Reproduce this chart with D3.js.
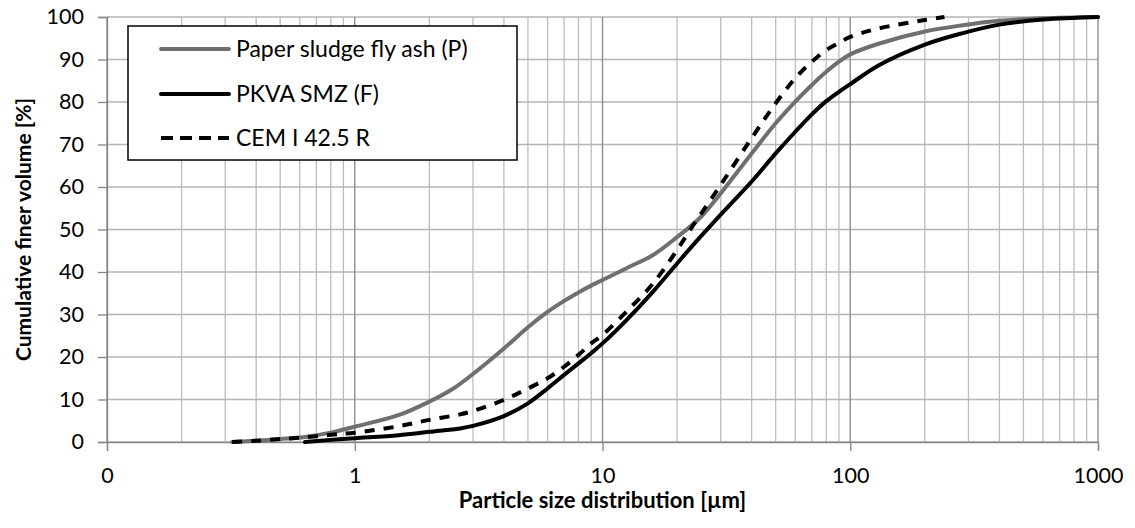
<!DOCTYPE html>
<html>
<head>
<meta charset="utf-8">
<script src="https://d3js.org/d3.v7.min.js"></script>
<style>
  html, body { margin: 0; padding: 0; background: #fff; }
  svg { display: block; font-family: Lato, "Open Sans", sans-serif; }
</style>
</head>
<body>
<svg id="chart" width="1135" height="528"></svg>
<script>
// ---- Data ----
const sizesP = [0.32, 0.4, 0.5, 0.63, 0.8, 1, 1.5, 2, 2.5, 3, 4, 5, 6, 7, 8, 9, 10, 12.5, 16, 20, 25, 30, 40, 50, 60, 70, 80, 90, 100, 130, 200, 280, 400, 600, 1000];
const valuesP = [0, 0.3, 0.7, 1.2, 2.2, 3.6, 6.3, 9.5, 12.6, 16, 22, 27, 30.6, 33.2, 35.2, 36.8, 38.1, 40.9, 44, 48.2, 53, 58.5, 67.9, 75, 80.1, 84, 87.1, 89.5, 91.2, 93.7, 96.6, 98.0, 99.1, 99.7, 100];

const sizesF = [0.63, 0.8, 1, 1.5, 2, 2.66, 3, 4, 5, 6, 7, 8, 9, 10, 12.5, 16, 20, 23, 30, 40, 50, 60, 70, 80, 90, 100, 130, 200, 280, 400, 600, 1000];
const valuesF = [0, 0.5, 0.9, 1.6, 2.4, 3.2, 3.8, 6.1, 9.1, 12.6, 15.8, 18.5, 20.9, 23.2, 28.7, 35.4, 42, 46.1, 53.5, 61.3, 67.9, 73, 77.1, 80.2, 82.4, 84.2, 88.6, 93.5, 96.1, 98.2, 99.4, 100];

const sizesC = [0.32, 0.4, 0.5, 0.63, 0.8, 1, 1.5, 2, 2.66, 3, 4, 5, 6, 7, 8, 9, 10, 12.5, 16, 20, 23, 30, 40, 50, 60, 70, 80, 90, 100, 130, 200, 240];
const valuesC = [0, 0.3, 0.7, 1.1, 1.7, 2.2, 3.7, 5.2, 6.5, 7.3, 9.9, 12.6, 15, 17.7, 20.5, 23.2, 25.2, 30.7, 37.3, 45.2, 50.6, 60.5, 71.5, 79.7, 85.6, 89.5, 92.2, 93.9, 95.3, 97.3, 99.3, 100];

const seriesNames = ["Paper sludge fly ash (P)", "PKVA SMZ (F)", "CEM I 42.5 R"];
const xTickValues = [0.1, 1, 10, 100, 1000];
const xTickLabels = ["0", "1", "10", "100", "1000"];
const yTickValues = [0, 10, 20, 30, 40, 50, 60, 70, 80, 90, 100];
const xTitle = "Particle size distribution [µm]";
const yTitle = "Cumulative finer volume [%]";

// ---- Layout ----
const svg = d3.select("#chart");
const L = 107, R = 1098, T = 17, B = 442;
const x = d3.scaleLog().domain([0.1, 1000]).range([L, R]);
const y = d3.scaleLinear().domain([0, 100]).range([B, T]);

const series = [
  { name: seriesNames[0], xs: sizesP, ys: valuesP, color: "#6f6f6f", dash: null },
  { name: seriesNames[1], xs: sizesF, ys: valuesF, color: "#000000", dash: null },
  { name: seriesNames[2], xs: sizesC, ys: valuesC, color: "#000000", dash: "10,9" }
];

// ---- Gridlines ----
const grid = svg.append("g");
const minor = [];
for (let d = 0.1; d < 1000; d *= 10) {
  for (let k = 2; k <= 9; k++) minor.push(+(d * k).toPrecision(3));
}
grid.selectAll("line.minor").data(minor).join("line")
  .attr("x1", d => x(d)).attr("x2", d => x(d))
  .attr("y1", T).attr("y2", B)
  .attr("stroke", "#bdbdbd").attr("stroke-width", 1.3);
grid.selectAll("line.h").data(yTickValues).join("line")
  .attr("x1", L).attr("x2", R)
  .attr("y1", d => y(d)).attr("y2", d => y(d))
  .attr("stroke", "#b5b5b5").attr("stroke-width", 1.4);
grid.selectAll("line.major").data(xTickValues).join("line")
  .attr("x1", d => x(d)).attr("x2", d => x(d))
  .attr("y1", T).attr("y2", B)
  .attr("stroke", "#8f8f8f").attr("stroke-width", 1.4);

// ---- Axes ----
const yAxis = d3.axisLeft(y).tickValues(yTickValues).tickSize(9).tickPadding(14).tickFormat(d3.format("d"));
const gy = svg.append("g").attr("transform", `translate(${L},0)`).call(yAxis);
gy.select(".domain").attr("stroke", "#868686").attr("stroke-width", 1.3);
gy.selectAll(".tick line").attr("stroke", "#868686").attr("stroke-width", 1.3);
gy.selectAll(".tick text").attr("font-size", 21.5).attr("fill", "#000").attr("font-family", "Lato, sans-serif");

const xAxis = d3.axisBottom(x).tickValues(xTickValues).tickSize(9).tickPadding(17)
  .tickFormat((d, i) => xTickLabels[i]);
const gx = svg.append("g").attr("transform", `translate(0,${B})`).call(xAxis);
gx.select(".domain").attr("stroke", "#868686").attr("stroke-width", 1.3);
gx.selectAll(".tick line").attr("stroke", "#868686").attr("stroke-width", 1.3);
gx.selectAll(".tick text").attr("font-size", 21.5).attr("fill", "#000").attr("font-family", "Lato, sans-serif");

// ---- Lines ----
const line = d3.line().curve(d3.curveCatmullRom.alpha(0.5));
series.forEach(s => {
  const pts = s.xs.map((v, i) => [x(v), y(s.ys[i])]);
  svg.append("path")
    .attr("d", line(pts))
    .attr("fill", "none")
    .attr("stroke", s.color)
    .attr("stroke-width", 4)
    .attr("stroke-linecap", s.dash ? "butt" : "round")
    .attr("stroke-linejoin", "round")
    .attr("stroke-dasharray", s.dash);
});

// ---- Legend ----
const lg = svg.append("g");
lg.append("rect").attr("x", 128).attr("y", 26).attr("width", 389).attr("height", 134)
  .attr("fill", "#fff").attr("stroke", "#000").attr("stroke-width", 1.5);
const rowY = [49, 94, 138];
series.forEach((s, i) => {
  lg.append("line").attr("x1", 161).attr("x2", 229).attr("y1", rowY[i]).attr("y2", rowY[i])
    .attr("stroke", s.color).attr("stroke-width", 4)
    .attr("stroke-linecap", s.dash ? "butt" : "round")
    .attr("stroke-dasharray", s.dash ? "12,7" : null);
  lg.append("text").attr("x", 236).attr("y", rowY[i]).attr("dy", "0.35em")
    .attr("font-size", 23).attr("fill", "#000").text(s.name);
});

// ---- Titles ----
svg.append("text").attr("x", (L + R) / 2).attr("y", 508).attr("text-anchor", "middle")
  .attr("font-size", 22).attr("font-weight", "bold").attr("fill", "#000").text(xTitle);
svg.append("text").attr("transform", `translate(31,${(T + B) / 2}) rotate(-90)`)
  .attr("text-anchor", "middle")
  .attr("font-size", 21).attr("font-weight", "bold").attr("fill", "#000").text(yTitle);
</script>
</body>
</html>
